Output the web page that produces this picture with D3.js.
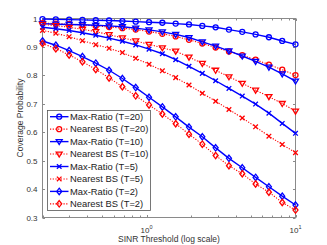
<!DOCTYPE html>
<html><head><meta charset="utf-8">
<script src="https://cdn.jsdelivr.net/npm/d3@7"></script>
<style>body{margin:0;background:#fff} svg{display:block} text{font-family:"Liberation Sans",Arial,Helvetica,sans-serif}</style>
</head><body><svg id="c" width="327" height="245"></svg>
<script>
// SINR thresholds (linear), 20 log-spaced points
const thresholds=[0.2,0.2457,0.3019,0.3709,0.4557,0.5600,0.6880,0.8454,1.0387,1.2762,1.5681,1.9267,2.3673,2.9087,3.5738,4.3911,5.3953,6.6291,8.1451,10.0];
const maxRatioT20=[0.998,0.997,0.996,0.995,0.994,0.993,0.991,0.989,0.987,0.985,0.982,0.979,0.974,0.969,0.961,0.953,0.944,0.934,0.921,0.909];
const nearestT20=[0.984,0.982,0.980,0.977,0.974,0.970,0.966,0.961,0.954,0.946,0.937,0.925,0.912,0.898,0.884,0.871,0.855,0.838,0.820,0.801];
const maxRatioT10=[0.982,0.980,0.979,0.978,0.976,0.974,0.971,0.966,0.960,0.953,0.944,0.933,0.918,0.903,0.886,0.868,0.849,0.829,0.805,0.780];
const nearestT10=[0.979,0.975,0.969,0.962,0.954,0.943,0.932,0.921,0.909,0.897,0.885,0.864,0.842,0.818,0.795,0.772,0.748,0.725,0.701,0.674];
const maxRatioT5=[0.969,0.964,0.958,0.950,0.941,0.931,0.920,0.907,0.892,0.876,0.855,0.832,0.807,0.781,0.754,0.727,0.699,0.667,0.631,0.596];
const nearestT5=[0.958,0.948,0.936,0.922,0.908,0.895,0.880,0.860,0.839,0.816,0.792,0.766,0.737,0.709,0.680,0.650,0.619,0.586,0.557,0.528];
const maxRatioT2=[0.921,0.906,0.887,0.866,0.843,0.818,0.789,0.757,0.723,0.689,0.654,0.618,0.584,0.545,0.508,0.475,0.441,0.408,0.375,0.344];
const nearestT2=[0.912,0.894,0.872,0.848,0.821,0.791,0.760,0.728,0.696,0.664,0.630,0.593,0.558,0.518,0.482,0.454,0.418,0.389,0.353,0.326];
const seriesNames=["Max-Ratio (T=20)","Nearest BS (T=20)","Max-Ratio (T=10)","Nearest BS (T=10)","Max-Ratio (T=5)","Nearest BS (T=5)","Max-Ratio (T=2)","Nearest BS (T=2)"];
const yTicks=[0.3,0.4,0.5,0.6,0.7,0.8,0.9,1];
const xMajorTicks=[1,10];
const xMinorTicks=[0.2,0.3,0.4,0.5,0.6,0.7,0.8,0.9,2,3,4,5,6,7,8,9];
const xLabel="SINR Threshold (log scale)";
const yLabel="Coverage Probability";

const values=[maxRatioT20,nearestT20,maxRatioT10,nearestT10,maxRatioT5,nearestT5,maxRatioT2,nearestT2];
const styles=[
 {c:"#0000ff",dash:null,m:"o"},{c:"#ff0000",dash:"1.2,1.5",m:"o"},
 {c:"#0000ff",dash:null,m:"v"},{c:"#ff0000",dash:"1.2,1.5",m:"v"},
 {c:"#0000ff",dash:null,m:"x"},{c:"#ff0000",dash:"1.2,1.5",m:"x"},
 {c:"#0000ff",dash:null,m:"d"},{c:"#ff0000",dash:"1.2,1.5",m:"d"}];

const L=42.5,R=295.5,T=18.5,B=217.5;
const svg=d3.select("#c");
const x=d3.scaleLog().domain([0.2,10]).range([L,R]);
const y=d3.scaleLinear().domain([0.3,1]).range([B,T]);
const axisCol="#8a8a8a", textCol="#333";

function markerPath(m){
  if(m==="o"){const p=d3.path();p.arc(0,0,2.5,0,2*Math.PI);return p.toString();}
  if(m==="v") return "M-3,-2L3,-2L0,3Z";
  if(m==="x") return "M-2.3,-2.3L2.3,2.3M-2.3,2.3L2.3,-2.3";
  if(m==="d") return "M0,-3.2L2.5,0L0,3.2L-2.5,0Z";
}

const g=svg.append("g");
yTicks.forEach(v=>{
  const yy=Math.round(y(v))+0.5;
  g.append("line").attr("x1",L).attr("x2",L+2.5).attr("y1",yy).attr("y2",yy).attr("stroke",axisCol);
  g.append("line").attr("x1",R).attr("x2",R-2.5).attr("y1",yy).attr("y2",yy).attr("stroke",axisCol);
  g.append("text").attr("x",L-5).attr("y",yy).attr("dy","0.33em").attr("text-anchor","end")
   .attr("font-size",8).attr("fill",textCol).text(v===1?"1":v.toFixed(1));
});
xMinorTicks.concat(xMajorTicks).forEach(v=>{
  const xx=Math.round(x(v))+0.5;
  const len=xMajorTicks.includes(v)?2.5:2;
  g.append("line").attr("x1",xx).attr("x2",xx).attr("y1",B).attr("y2",B-len).attr("stroke",axisCol);
  g.append("line").attr("x1",xx).attr("x2",xx).attr("y1",T).attr("y2",T+len).attr("stroke",axisCol);
});
xMajorTicks.forEach(v=>{
  const t=g.append("text").attr("x",x(v)).attr("y",233).attr("text-anchor","middle").attr("font-size",8).attr("fill",textCol);
  t.append("tspan").text("10");
  t.append("tspan").attr("dy",-4).attr("font-size",5.5).text(String(Math.round(Math.log10(v))));
});
svg.append("rect").attr("x",L).attr("y",T).attr("width",R-L).attr("height",B-T).attr("fill","none").attr("stroke",axisCol).attr("stroke-width",1);

const line=d3.line().x((d,i)=>x(thresholds[i])).y(d=>y(d));
values.forEach((vals,k)=>{
  const s=styles[k];
  const gs=svg.append("g");
  gs.append("path").datum(vals).attr("d",line).attr("fill","none").attr("stroke",s.c)
    .attr("stroke-width",s.dash?1.1:1.4).attr("stroke-dasharray",s.dash);
  gs.selectAll("path.m").data(vals).enter().append("path").attr("class","m")
    .attr("transform",(d,i)=>`translate(${x(thresholds[i])},${y(d)})`)
    .attr("d",markerPath(s.m)).attr("fill","none").attr("stroke",s.c).attr("stroke-width",1.3);
});

const lg=svg.append("g");
lg.append("rect").attr("x",47.5).attr("y",110.5).attr("width",103).attr("height",100).attr("fill","#fff").attr("stroke","#555").attr("stroke-width",0.8);
seriesNames.forEach((n,k)=>{
  const s=styles[k];
  const yy=116.7+k*12.45;
  lg.append("line").attr("x1",50).attr("x2",68.5).attr("y1",yy).attr("y2",yy).attr("stroke",s.c)
    .attr("stroke-width",s.dash?1.1:1.4).attr("stroke-dasharray",s.dash);
  lg.append("path").attr("transform",`translate(59.2,${yy})`).attr("d",markerPath(s.m)).attr("fill","none").attr("stroke",s.c).attr("stroke-width",1.3);
  lg.append("text").attr("x",70).attr("y",yy).attr("dy","0.35em").attr("font-size",9.4).attr("fill","#222").text(n);
});

svg.append("text").attr("x",169).attr("y",241.5).attr("text-anchor","middle").attr("font-size",8.5).attr("fill",textCol).text(xLabel);
svg.append("text").attr("transform","translate(22.5,118) rotate(-90)").attr("text-anchor","middle").attr("font-size",8.5).attr("fill",textCol).text(yLabel);
</script></body></html>
